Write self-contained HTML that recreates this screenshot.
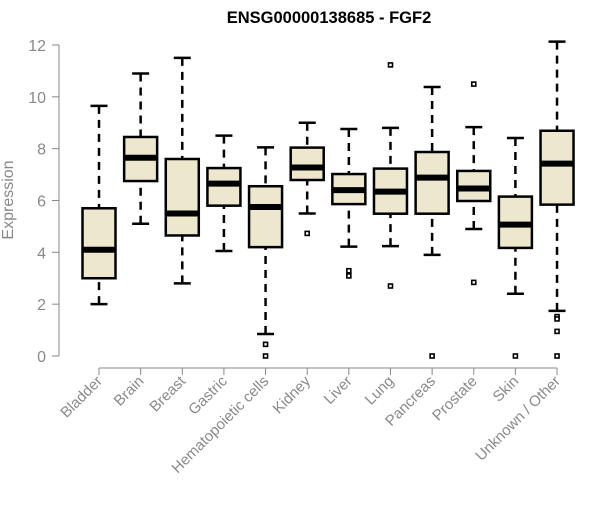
<!DOCTYPE html>
<html><head><meta charset="utf-8"><style>
body{margin:0;background:#fff;}
svg text{font-family:"Liberation Sans",Arial,sans-serif;}
</style></head><body>
<svg id="chart" width="600" height="500" xmlns="http://www.w3.org/2000/svg">
<text x="329" y="23" text-anchor="middle" font-weight="bold" font-size="16.5" fill="#000">ENSG00000138685 - FGF2</text>
<text transform="translate(13,200) rotate(-90)" text-anchor="middle" font-size="16" fill="#888">Expression</text>
<g id="yaxis"></g>
<g id="xaxis"></g>
<g id="boxes"></g>
</svg>
<script>
const categories=["Bladder","Brain","Breast","Gastric","Hematopoietic cells","Kidney","Liver","Lung","Pancreas","Prostate","Skin","Unknown / Other"];
const whiskerLow=[2.0,5.1,2.8,4.05,0.85,5.5,4.22,4.24,3.9,4.9,2.4,1.74];
const q1=[3.0,6.75,4.65,5.8,4.2,6.79,5.86,5.49,5.49,5.98,4.17,5.84];
const medians=[4.1,7.65,5.5,6.65,5.75,7.27,6.4,6.34,6.88,6.46,5.07,7.42];
const q3=[5.7,8.45,7.6,7.25,6.55,8.04,7.02,7.23,7.87,7.14,6.15,8.69];
const whiskerHigh=[9.65,10.9,11.5,8.5,8.05,9.0,8.76,8.8,10.38,8.83,8.41,12.13];
const outliers=[[],[],[],[],[0.45,0],[4.73],[3.29,3.09],[11.23,2.7],[0],[10.49,2.84],[0],[1.52,1.43,0.95,0]];
const yTicks=[0,2,4,6,8,10,12];
const NS="http://www.w3.org/2000/svg";
const y=v=>356-v*25.92;
const x=i=>99+i*41.64;
function mk(tag,attrs,parent){const e=document.createElementNS(NS,tag);for(const k in attrs)e.setAttribute(k,attrs[k]);parent.appendChild(e);return e;}
const ya=document.getElementById('yaxis'),xa=document.getElementById('xaxis'),bx=document.getElementById('boxes');
let l=mk('line',{x1:59,x2:59,y1:y(12),y2:y(0),stroke:'#888'},ya);


yTicks.forEach(t=>{
 const tk=mk('line',{x1:52,x2:59,y1:y(t),y2:y(t),stroke:'#888'},ya);
 
 
 const tx=mk('text',{x:46,y:y(t)+6,'text-anchor':'end','font-size':16,fill:'#8a8a8a'},ya);
 tx.textContent=t;
 
 
});
l=mk('line',{x1:x(0),x2:x(categories.length-1),y1:368,y2:368,stroke:'#888'},xa);


categories.forEach((c,i)=>{
 const cx=x(i);
 const tk=mk('line',{x1:cx,x2:cx,y1:368,y2:375,stroke:'#888'},xa);
 
 
 const tx=mk('text',{transform:`translate(${cx+4},${382}) rotate(-45)`,'text-anchor':'end','font-size':15,fill:'#8a8a8a'},xa);
 tx.textContent=c;
 
 
 const g=mk('g',{},bx);
 
 
 const hw=16.5;
 mk('line',{x1:cx,x2:cx,y1:y(whiskerHigh[i]),y2:y(q3[i]),stroke:'#000','stroke-width':2.5,'stroke-dasharray':'8,6'},g);
 mk('line',{x1:cx,x2:cx,y1:y(whiskerLow[i]),y2:y(q1[i]),stroke:'#000','stroke-width':2.5,'stroke-dasharray':'8,6'},g);
 mk('line',{x1:cx-8.5,x2:cx+8.5,y1:y(whiskerHigh[i]),y2:y(whiskerHigh[i]),stroke:'#000','stroke-width':2.5},g);
 mk('line',{x1:cx-8.5,x2:cx+8.5,y1:y(whiskerLow[i]),y2:y(whiskerLow[i]),stroke:'#000','stroke-width':2.5},g);
 mk('rect',{x:cx-hw,y:y(q3[i]),width:hw*2,height:y(q1[i])-y(q3[i]),fill:'#ede7cd',stroke:'#000','stroke-width':2.5},g);
 mk('line',{x1:cx-hw,x2:cx+hw,y1:y(medians[i]),y2:y(medians[i]),stroke:'#000','stroke-width':6},g);
 outliers[i].forEach(o=>{
  const p=mk('rect',{x:cx-2,y:y(o)-2,width:4,height:4,fill:'#fff',stroke:'#000','stroke-width':1.6},g);
  
  
 });
});
</script>
</body></html>
